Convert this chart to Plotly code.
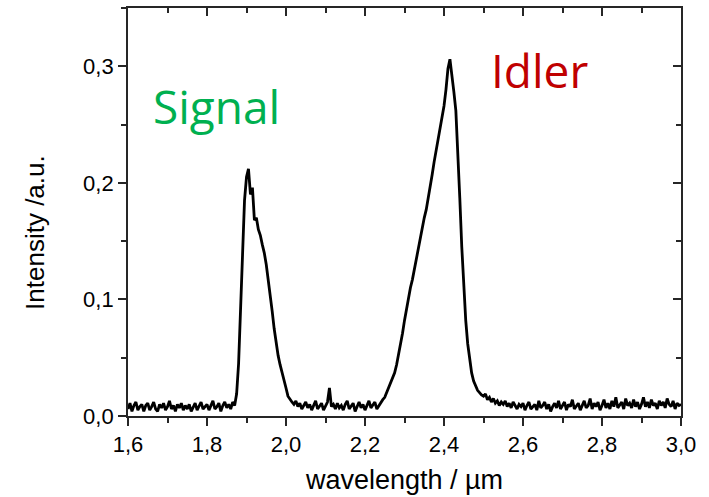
import numpy as np
import plotly.graph_objects as go

# wavelength grid in µm (0.005 µm sampling from 1.6 to 3.0)
wavelength = np.round(np.linspace(1.6, 3.0, 281), 4)

intensity = [
    # 1.600 - 1.645
    0.006, 0.011, 0.004, 0.009, 0.012, 0.005, 0.008, 0.010, 0.004, 0.009,
    # 1.650 - 1.695
    0.011, 0.005, 0.008, 0.012, 0.006, 0.004, 0.010, 0.007, 0.011, 0.005,
    # 1.700 - 1.745
    0.008, 0.013, 0.006, 0.009, 0.004, 0.010, 0.007, 0.011, 0.005, 0.009,
    # 1.750 - 1.795
    0.006, 0.010, 0.004, 0.008, 0.011, 0.005, 0.009, 0.012, 0.006, 0.008,
    # 1.800 - 1.845
    0.010, 0.005, 0.009, 0.013, 0.006, 0.008, 0.011, 0.004, 0.009, 0.012,
    # 1.850 - 1.895
    0.007, 0.010, 0.006, 0.012, 0.009, 0.019, 0.045, 0.095, 0.150, 0.185,
    # 1.900 - 1.945
    0.205, 0.212, 0.190, 0.196, 0.168, 0.170, 0.160, 0.155, 0.147, 0.140,
    # 1.950 - 1.995
    0.130, 0.118, 0.106, 0.090, 0.075, 0.062, 0.052, 0.044, 0.038, 0.032,
    # 2.000 - 2.045
    0.024, 0.017, 0.014, 0.012, 0.010, 0.013, 0.008, 0.011, 0.006, 0.009,
    # 2.050 - 2.095
    0.012, 0.007, 0.010, 0.005, 0.009, 0.013, 0.006, 0.008, 0.011, 0.005,
    # 2.100 - 2.145
    0.009, 0.012, 0.024, 0.008, 0.010, 0.006, 0.011, 0.007, 0.009, 0.005,
    # 2.150 - 2.195
    0.010, 0.013, 0.006, 0.009, 0.011, 0.004, 0.008, 0.012, 0.007, 0.010,
    # 2.200 - 2.245
    0.005, 0.009, 0.013, 0.007, 0.010, 0.012, 0.006, 0.009, 0.011, 0.014,
    # 2.250 - 2.295
    0.016, 0.020, 0.025, 0.029, 0.033, 0.037, 0.044, 0.052, 0.062, 0.071,
    # 2.300 - 2.345
    0.082, 0.092, 0.103, 0.110, 0.117, 0.126, 0.136, 0.146, 0.155, 0.162,
    # 2.350 - 2.395
    0.170, 0.177, 0.186, 0.196, 0.207, 0.218, 0.227, 0.236, 0.245, 0.255,
    # 2.400 - 2.445
    0.266, 0.280, 0.298, 0.306, 0.294, 0.278, 0.262, 0.230, 0.187, 0.145,
    # 2.450 - 2.495
    0.110, 0.082, 0.062, 0.047, 0.037, 0.030, 0.026, 0.022, 0.020, 0.018,
    # 2.500 - 2.545
    0.017, 0.019, 0.014, 0.016, 0.012, 0.015, 0.011, 0.013, 0.009, 0.012,
    # 2.550 - 2.595
    0.010, 0.013, 0.008, 0.011, 0.007, 0.012, 0.009, 0.006, 0.010, 0.008,
    # 2.600 - 2.645
    0.011, 0.005, 0.009, 0.012, 0.006, 0.008, 0.010, 0.005, 0.013, 0.007,
    # 2.650 - 2.695
    0.009, 0.012, 0.006, 0.010, 0.004, 0.008, 0.011, 0.007, 0.013, 0.006,
    # 2.700 - 2.745
    0.009, 0.012, 0.005, 0.010, 0.008, 0.014, 0.006, 0.009, 0.011, 0.005,
    # 2.750 - 2.795
    0.010, 0.013, 0.007, 0.009, 0.015, 0.006, 0.011, 0.008, 0.012, 0.005,
    # 2.800 - 2.845
    0.009, 0.014, 0.007, 0.011, 0.006, 0.013, 0.008, 0.016, 0.007, 0.010,
    # 2.850 - 2.895
    0.012, 0.006, 0.015, 0.009, 0.011, 0.007, 0.014, 0.008, 0.012, 0.006,
    # 2.900 - 2.945
    0.010, 0.016, 0.008, 0.012, 0.007, 0.014, 0.009, 0.011, 0.006, 0.013,
    # 2.950 - 2.995
    0.009, 0.012, 0.007, 0.015, 0.010, 0.008, 0.013, 0.006, 0.011, 0.009,
    # 3.000
    0.010,
]

x_range = [1.6, 3.0]
y_range = [0.0, 0.35]

labels = ["Signal", "Idler"]
label_x = [1.658, 2.514]
label_y = [0.266, 0.297]
label_colors = ["#00b050", "#c00000"]

AX = "#262626"
FONT = "Liberation Sans, Arial"

fig = go.Figure()
fig.add_trace(go.Scatter(
    x=wavelength, y=intensity, mode="lines",
    line=dict(color="black", width=2.8),
    showlegend=False, hoverinfo="skip",
))
# helper trace for the inward-ticked top/right axes
fig.add_trace(go.Scatter(
    x=[None], y=[None], xaxis="x2", yaxis="y2",
    showlegend=False, hoverinfo="skip",
))

for t, xx, yy, c in zip(labels, label_x, label_y, label_colors):
    fig.add_annotation(
        x=xx, y=yy, xref="x", yref="y", text=t, showarrow=False,
        xanchor="left", yanchor="middle",
        font=dict(family="Open Sans", size=46, color=c),
    )

# y axis title placed as rotated annotation (sits slightly below axis centre)
fig.add_annotation(
    x=-0.168, y=0.449, xref="paper", yref="paper", text="Intensity /a.u.",
    textangle=-90, showarrow=False, xanchor="center", yanchor="middle",
    font=dict(family=FONT, size=26, color="black"),
)

tickfont = dict(family=FONT, size=22, color="black")

fig.update_layout(
    width=709, height=497,
    margin=dict(l=128, r=28, t=6, b=81),
    paper_bgcolor="white", plot_bgcolor="white",
    separators=",.",
    xaxis=dict(
        range=x_range, tick0=1.6, dtick=0.2, tickformat=".1f",
        ticks="outside", ticklen=8, tickwidth=1.5, tickcolor=AX,
        minor=dict(ticks="outside", ticklen=5, tickwidth=1.5, tickcolor=AX, dtick=0.1, tick0=1.6),
        showline=True, linecolor=AX, linewidth=1.8, mirror=True,
        showgrid=False, zeroline=False,
        tickfont=tickfont,
        title=dict(text="wavelength / µm", font=dict(family=FONT, size=27, color="black"), standoff=14),
    ),
    yaxis=dict(
        range=y_range, tick0=0, dtick=0.1, tickformat=".1f",
        ticks="outside", ticklen=8, tickwidth=1.5, tickcolor=AX,
        minor=dict(ticks="outside", ticklen=5, tickwidth=1.5, tickcolor=AX, dtick=0.05, tick0=0),
        showline=True, linecolor=AX, linewidth=1.8, mirror=True,
        showgrid=False, zeroline=False,
        tickfont=tickfont,
    ),
    xaxis2=dict(
        range=x_range, overlaying="x", side="top", anchor="y",
        tick0=1.6, dtick=0.2, ticks="inside", ticklen=8, tickwidth=1.5, tickcolor=AX,
        minor=dict(ticks="inside", ticklen=5, tickwidth=1.5, tickcolor=AX, dtick=0.1, tick0=1.6),
        showticklabels=False, showline=False, showgrid=False, zeroline=False,
    ),
    yaxis2=dict(
        range=y_range, overlaying="y", side="right", anchor="x",
        tick0=0, dtick=0.1, ticks="inside", ticklen=8, tickwidth=1.5, tickcolor=AX,
        minor=dict(ticks="inside", ticklen=5, tickwidth=1.5, tickcolor=AX, dtick=0.05, tick0=0),
        showticklabels=False, showline=False, showgrid=False, zeroline=False,
    ),
)

fig.write_html(
    "out.html",
    config={"displayModeBar": False},
    post_script="document.body.style.margin='0';",
)
